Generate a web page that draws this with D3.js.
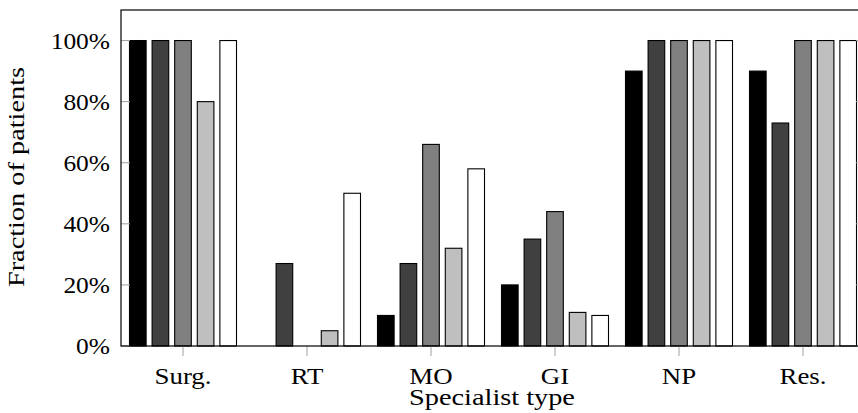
<!DOCTYPE html>
<html>
<head>
<meta charset="utf-8">
<script src="https://cdn.jsdelivr.net/npm/d3@7"></script>
</head>
<body style="margin:0">
<svg id="chart" width="858" height="413"></svg>
<script>
// Specialist types along the x axis
const categories = ["Surg.", "RT", "MO", "GI", "NP", "Res."];
// Five patient groups, one value per specialist type (percent)
const series1 = [100, 0, 10, 20, 90, 90];
const series2 = [100, 27, 27, 35, 100, 73];
const series3 = [100, 0, 66, 44, 100, 100];
const series4 = [80, 5, 32, 11, 100, 100];
const series5 = [100, 50, 58, 10, 100, 100];
const seriesList = [series1, series2, series3, series4, series5];
const seriesFill = ["#000000", "#404040", "#808080", "#bfbfbf", "#ffffff"];
const yTicks = [0, 20, 40, 60, 80, 100];

const labelFont = "Liberation Serif";
const svg = d3.select("#chart");
const plotLeft = 121, plotRight = 865, plotTop = 10, plotBottom = 346;

const x = d3.scaleBand().domain(categories).range([plotLeft, plotRight]).padding(0);
const y = d3.scaleLinear().domain([0, 110]).range([plotBottom, plotTop]);
const sub = d3.scaleBand().domain(d3.range(seriesList.length))
  .range([-54, 54]).paddingInner(0.22);

// bars
const groups = svg.append("g").selectAll("g")
  .data(seriesList)
  .join("g")
  .attr("fill", (d, i) => seriesFill[i]);

groups.selectAll("rect")
  .data((d, i) => d.map((v, j) => ({ v, cat: categories[j], s: i })))
  .join("rect")
  .attr("x", d => x(d.cat) + x.bandwidth() / 2 + sub(d.s) + 0.5)
  .attr("width", sub.bandwidth() - 1)
  .attr("y", d => y(d.v))
  .attr("height", d => y(0) - y(d.v))
  .attr("stroke", "#000")
  .attr("stroke-width", 1.1);

// ticks: y inward on left and right, x outward at bottom
const tickColor = "#a0a0a0";
const yTickG = svg.append("g");
yTickG.selectAll("line.l").data(yTicks).join("line").attr("class", "l")
  .attr("x1", plotLeft).attr("x2", plotLeft + 9)
  .attr("y1", d => y(d)).attr("y2", d => y(d))
  .attr("stroke", tickColor).attr("stroke-width", 1);
yTickG.selectAll("line.r").data(yTicks).join("line").attr("class", "r")
  .attr("x1", plotRight - 9).attr("x2", plotRight)
  .attr("y1", d => y(d)).attr("y2", d => y(d))
  .attr("stroke", tickColor).attr("stroke-width", 1);
svg.append("g").selectAll("line").data(categories).join("line")
  .attr("x1", d => x(d) + x.bandwidth() / 2).attr("x2", d => x(d) + x.bandwidth() / 2)
  .attr("y1", plotBottom).attr("y2", plotBottom + 10)
  .attr("stroke", tickColor).attr("stroke-width", 1);

// frame
svg.append("rect")
  .attr("x", plotLeft).attr("y", plotTop)
  .attr("width", plotRight - plotLeft).attr("height", plotBottom - plotTop)
  .attr("fill", "none").attr("stroke", "#000").attr("stroke-width", 1.2);

// tick labels (slightly widened to a Computer Modern-like proportion)
svg.append("g").selectAll("text").data(yTicks).join("text")
  .attr("transform", d => `translate(110,${y(d) + 8}) scale(1.06,1)`)
  .attr("text-anchor", "end")
  .attr("font-family", labelFont).attr("font-size", 24)
  .text(d => d + "%");

svg.append("g").selectAll("text").data(categories).join("text")
  .attr("transform", d => `translate(${x(d) + x.bandwidth() / 2},384) scale(1.12,1)`)
  .attr("text-anchor", "middle")
  .attr("font-family", labelFont).attr("font-size", 24)
  .text(d => d);

// axis titles
svg.append("text")
  .attr("transform", "translate(492,405) scale(1.18,1)")
  .attr("text-anchor", "middle")
  .attr("font-family", labelFont).attr("font-size", 24)
  .text("Specialist type");

svg.append("text")
  .attr("transform", "translate(24,177) rotate(-90) scale(1.18,1)")
  .attr("text-anchor", "middle")
  .attr("font-family", labelFont).attr("font-size", 24)
  .text("Fraction of patients");
</script>
</body>
</html>
